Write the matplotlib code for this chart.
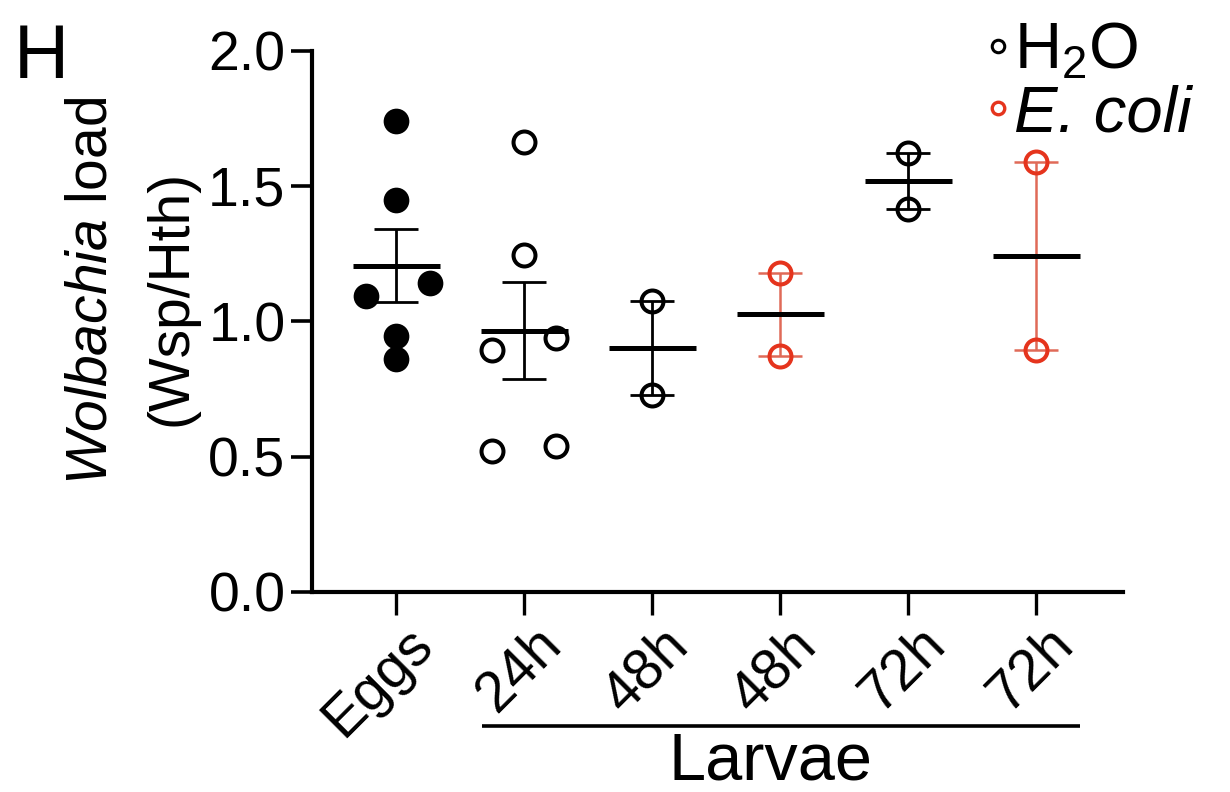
import numpy as np
import matplotlib
matplotlib.use('Agg')
import matplotlib.pyplot as plt
from matplotlib.lines import Line2D
from matplotlib.transforms import ScaledTranslation, blended_transform_factory

plt.rcParams['font.family'] = ['Liberation Sans', 'DejaVu Sans']
plt.rcParams['mathtext.fontset'] = 'custom'
plt.rcParams['mathtext.rm'] = 'Liberation Sans'
plt.rcParams['mathtext.it'] = 'Liberation Sans:italic'

# ---------------- data ----------------
categories = ['Eggs', '24h', '48h', '48h', '72h', '72h']
treatment = ['H2O', 'H2O', 'H2O', 'E. coli', 'H2O', 'E. coli']
eggs = [1.741, 1.448, 1.141, 1.092, 0.946, 0.861]
larvae_24h_h2o = [1.661, 1.243, 0.938, 0.892, 0.541, 0.520]
larvae_48h_h2o = [1.073, 0.729]
larvae_48h_ecoli = [1.180, 0.870]
larvae_72h_h2o = [1.621, 1.414]
larvae_72h_ecoli = [1.590, 0.895]
groups = [eggs, larvae_24h_h2o, larvae_48h_h2o, larvae_48h_ecoli,
          larvae_72h_h2o, larvae_72h_ecoli]
yticks = [0.0, 0.5, 1.0, 1.5, 2.0]
ytick_labels = ['0.0', '0.5', '1.0', '1.5', '2.0']

# layout (scatter spread of points within each column)
spread = [[0, 0, 0.26, -0.24, 0, 0],
          [0, 0, 0.25, -0.25, 0.25, -0.25],
          [0, 0], [0, 0], [0, 0], [0, 0]]

RED = '#e5341d'
RED_BAR = '#e06a58'

fig = plt.figure(figsize=(12.3, 7.92), dpi=100)
W, H = 1230, 792
ax = fig.add_axes([312 / W, 200 / H, (1123 - 312) / W, (592 - 50.5) / H])

for i, vals in enumerate(groups):
    vals = np.asarray(vals)
    xs = i + np.asarray(spread[i])
    m = vals.mean()
    s = vals.std(ddof=1) / np.sqrt(len(vals))
    is_ecoli = treatment[i] == 'E. coli'
    ecol = RED_BAR if is_ecoli else 'black'
    mcol = RED if is_ecoli else 'black'
    ax.errorbar(i, m, yerr=s, fmt='none', ecolor=ecol,
                elinewidth=2.0 if not is_ecoli else 1.8,
                capsize=16, capthick=2.0 if not is_ecoli else 1.8,
                zorder=2, clip_on=False)
    ax.hlines(m, i - 0.34, i + 0.34, color='black', lw=3.6, zorder=3)
    if i == 0:
        ax.plot(xs, vals, 'o', ls='none', mfc='black', mec='black',
                ms=17, mew=1.5, zorder=4, clip_on=False)
    else:
        ax.plot(xs, vals, 'o', ls='none', mfc='none', mec=mcol,
                ms=15.8, mew=2.9, zorder=4, clip_on=False)

ax.set_xlim(-0.66, 5.676)
ax.set_ylim(0, 2.0)
for sp in ['top', 'right']:
    ax.spines[sp].set_visible(False)
for sp in ['left', 'bottom']:
    ax.spines[sp].set_linewidth(3)

ax.set_yticks(yticks)
ax.set_yticklabels(ytick_labels)
ax.tick_params(axis='y', length=15, width=2.6, pad=4, labelsize=40)
ax.set_xticks(range(len(categories)))
ax.set_xticklabels(categories, rotation=45, ha='right', va='center',
                   rotation_mode='anchor')
ax.tick_params(axis='x', length=16.5, width=2.4, pad=4, labelsize=41)
off = ScaledTranslation(0.28, -0.16, fig.dpi_scale_trans)
for lab in ax.get_xticklabels():
    lab.set_transform(lab.get_transform() + off)

# Larvae bracket
trans = blended_transform_factory(ax.transData, ax.transAxes)
ax.plot([1 - 0.33, 5 + 0.34], [-0.2475, -0.2475], transform=trans,
        color='black', lw=2.6, clip_on=False, solid_capstyle='butt')
ax.text(2.92, -0.346, 'Larvae', transform=trans, ha='center',
        va='baseline', fontsize=48)

# y label (two lines)
fig.text(107 / W, 1 - 291 / H, r'$\mathit{Wolbachia}$ load', rotation=90,
         ha='center', va='baseline', rotation_mode='anchor', fontsize=41)
fig.text(186 / W, 1 - 298 / H, '(Wsp/Hth)', rotation=90,
         ha='center', va='baseline', rotation_mode='anchor', fontsize=41)

# panel letter
fig.text(14 / W, 1 - 78 / H, 'H', fontsize=55, ha='left', va='baseline')

# legend
handles = [Line2D([], [], marker='o', ls='none', mfc='none', mec='black',
                  ms=9, mew=2.2),
           Line2D([], [], marker='o', ls='none', mfc='none', mec=RED,
                  ms=9, mew=2.4)]
leg = ax.legend(handles, ['H$_2$O', 'E. coli'], loc='upper left',
                bbox_to_anchor=(988 / W, 1 - 22 / H),
                bbox_transform=fig.transFigure, frameon=False, fontsize=47,
                handlelength=0.3, handletextpad=0.1, labelspacing=0.03,
                borderpad=0, borderaxespad=0)
leg.get_texts()[1].set_fontstyle('italic')

fig.savefig('out.png', dpi=100)
